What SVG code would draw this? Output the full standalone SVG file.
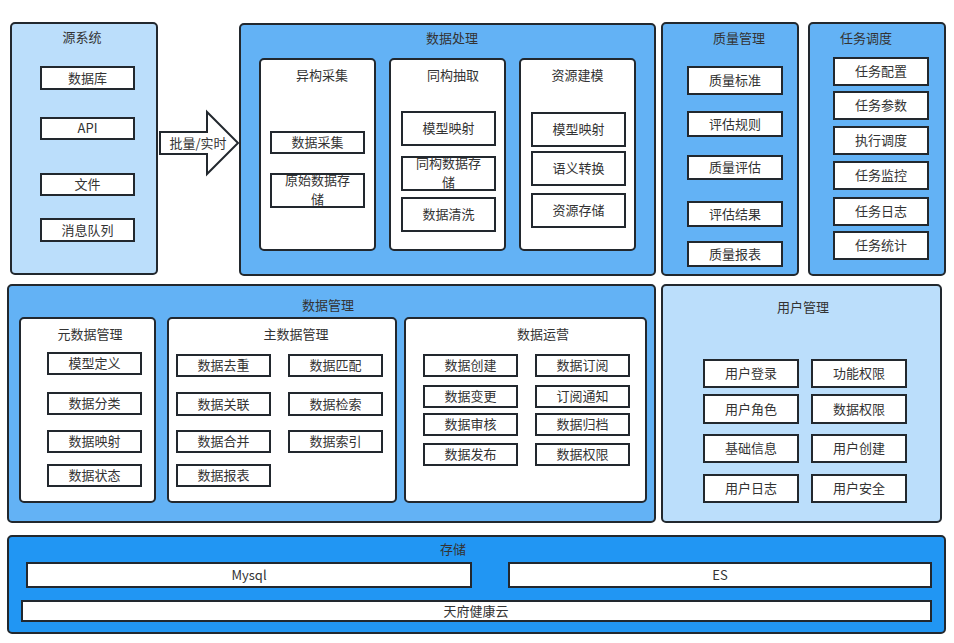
<svg xmlns="http://www.w3.org/2000/svg" width="954" height="643" viewBox="0 0 954 643">
<style>
.c{stroke:#22282e;stroke-width:2}
.l1{fill:#bbdefb}
.l2{fill:#63b2f5}
.l3{fill:#2196f3}
.w{fill:#ffffff}
.i{fill:#ffffff;stroke:#22282e;stroke-width:2}
text{font-family:"Noto Sans CJK SC","Liberation Sans",sans-serif;font-size:13px;fill:#333333;text-anchor:middle}
</style>
<rect width="954" height="643" fill="#ffffff"/>

<g id="source">
<rect class="c l1" x="11" y="23" width="146" height="251" rx="4"/>
<text x="82" y="42">源系统</text>
<rect class="i" x="41" y="67" width="93" height="22"/><text x="87.5" y="82.5">数据库</text>
<rect class="i" x="41" y="118" width="93" height="21"/><text x="87.5" y="133">API</text>
<rect class="i" x="41" y="174" width="93" height="21"/><text x="87.5" y="189">文件</text>
<rect class="i" x="41" y="219" width="93" height="22"/><text x="87.5" y="234.5">消息队列</text>
</g>

<g id="connectors">
<polygon points="160,132 207,132 207,112 238,143 207,174 207,154 160,154" fill="#ffffff" stroke="#22282e" stroke-width="2"/>
<text x="198" y="147.5">批量/实时</text>
</g>

<g id="processing">
<rect class="c l2" x="240" y="24" width="415" height="251" rx="4"/>
<text x="452" y="42.5">数据处理</text>
<rect class="c w" x="260" y="59" width="115" height="191" rx="4"/>
<text x="322" y="79.5">异构采集</text>
<rect class="i" x="271" y="132" width="93" height="21"/><text x="317.5" y="147">数据采集</text>
<rect class="i" x="271" y="174" width="93" height="33"/><text x="317.5" y="184.5"><tspan x="317.5" y="184.5">原始数据存</tspan><tspan x="317.5" y="203.5">储</tspan></text>
<rect class="c w" x="390" y="59" width="115" height="191" rx="4"/>
<text x="453" y="79.5">同构抽取</text>
<rect class="i" x="402" y="112" width="93" height="33"/><text x="448.5" y="133">模型映射</text>
<rect class="i" x="402" y="157" width="93" height="33"/><text x="448.5" y="168"><tspan x="448.5" y="168">同构数据存</tspan><tspan x="448.5" y="187">储</tspan></text>
<rect class="i" x="402" y="198" width="93" height="33"/><text x="448.5" y="219">数据清洗</text>
<rect class="c w" x="520" y="59" width="115" height="191" rx="4"/>
<text x="577.5" y="79.5">资源建模</text>
<rect class="i" x="532" y="113" width="93" height="33"/><text x="578.5" y="134">模型映射</text>
<rect class="i" x="532" y="152" width="93" height="33"/><text x="578.5" y="173">语义转换</text>
<rect class="i" x="532" y="194" width="93" height="33"/><text x="578.5" y="215">资源存储</text>
</g>

<g id="quality">
<rect class="c l2" x="662" y="23" width="136" height="252" rx="4"/>
<text x="739" y="43">质量管理</text>
<rect class="i" x="688" y="67" width="94" height="27"/><text x="735" y="85">质量标准</text>
<rect class="i" x="688" y="112" width="94" height="24"/><text x="735" y="128.5">评估规则</text>
<rect class="i" x="688" y="156" width="94" height="23"/><text x="735" y="172">质量评估</text>
<rect class="i" x="688" y="202" width="94" height="24"/><text x="735" y="218.5">评估结果</text>
<rect class="i" x="688" y="242" width="94" height="24"/><text x="735" y="258.5">质量报表</text>
</g>

<g id="task">
<rect class="c l2" x="809" y="23" width="136" height="252" rx="4"/>
<text x="866" y="42.5">任务调度</text>
<rect class="i" x="834" y="58" width="94" height="27"/><text x="881" y="76">任务配置</text>
<rect class="i" x="834" y="92" width="94" height="27"/><text x="881" y="110">任务参数</text>
<rect class="i" x="834" y="127" width="94" height="27"/><text x="881" y="145">执行调度</text>
<rect class="i" x="834" y="162" width="94" height="27"/><text x="881" y="180">任务监控</text>
<rect class="i" x="834" y="198" width="94" height="27"/><text x="881" y="216">任务日志</text>
<rect class="i" x="834" y="232" width="94" height="27"/><text x="881" y="250">任务统计</text>
</g>

<g id="datamgmt">
<rect class="c l2" x="8" y="285" width="647" height="237" rx="4"/>
<text x="328" y="309.5">数据管理</text>
<rect class="c w" x="20" y="318" width="135" height="184" rx="4"/>
<text x="90" y="338.5">元数据管理</text>
<rect class="i" x="48" y="353" width="93" height="21"/><text x="94.5" y="368">模型定义</text>
<rect class="i" x="48" y="393" width="93" height="21"/><text x="94.5" y="408">数据分类</text>
<rect class="i" x="48" y="431" width="93" height="21"/><text x="94.5" y="446">数据映射</text>
<rect class="i" x="48" y="465" width="93" height="21"/><text x="94.5" y="480">数据状态</text>
<rect class="c w" x="168" y="318" width="228" height="184" rx="4"/>
<text x="296" y="338.5">主数据管理</text>
<rect class="i" x="177" y="355" width="93" height="21"/><text x="223.5" y="370">数据去重</text>
<rect class="i" x="289" y="355" width="93" height="21"/><text x="335.5" y="370">数据匹配</text>
<rect class="i" x="177" y="393" width="93" height="22"/><text x="223.5" y="408.5">数据关联</text>
<rect class="i" x="289" y="393" width="93" height="22"/><text x="335.5" y="408.5">数据检索</text>
<rect class="i" x="177" y="431" width="93" height="21"/><text x="223.5" y="446">数据合并</text>
<rect class="i" x="289" y="431" width="93" height="21"/><text x="335.5" y="446">数据索引</text>
<rect class="i" x="177" y="465" width="93" height="21"/><text x="223.5" y="480">数据报表</text>
<rect class="c w" x="405" y="318" width="241" height="184" rx="4"/>
<text x="543" y="338.5">数据运营</text>
<rect class="i" x="424" y="355" width="93" height="21"/><text x="470.5" y="370">数据创建</text>
<rect class="i" x="536" y="355" width="93" height="21"/><text x="582.5" y="370">数据订阅</text>
<rect class="i" x="424" y="386" width="93" height="21"/><text x="470.5" y="401">数据变更</text>
<rect class="i" x="536" y="386" width="93" height="21"/><text x="582.5" y="401">订阅通知</text>
<rect class="i" x="424" y="414" width="93" height="21"/><text x="470.5" y="429">数据审核</text>
<rect class="i" x="536" y="414" width="93" height="21"/><text x="582.5" y="429">数据归档</text>
<rect class="i" x="424" y="444" width="93" height="21"/><text x="470.5" y="459">数据发布</text>
<rect class="i" x="536" y="444" width="93" height="21"/><text x="582.5" y="459">数据权限</text>
</g>

<g id="usermgmt">
<rect class="c l1" x="662" y="285" width="279" height="237" rx="4"/>
<text x="803" y="311.5">用户管理</text>
<rect class="i" x="704" y="360" width="94" height="27"/><text x="751" y="378">用户登录</text>
<rect class="i" x="812" y="360" width="94" height="27"/><text x="859" y="378">功能权限</text>
<rect class="i" x="704" y="395" width="94" height="28"/><text x="751" y="413.5">用户角色</text>
<rect class="i" x="812" y="395" width="94" height="28"/><text x="859" y="413.5">数据权限</text>
<rect class="i" x="704" y="435" width="94" height="27"/><text x="751" y="453">基础信息</text>
<rect class="i" x="812" y="435" width="94" height="27"/><text x="859" y="453">用户创建</text>
<rect class="i" x="704" y="475" width="94" height="27"/><text x="751" y="493">用户日志</text>
<rect class="i" x="812" y="475" width="94" height="27"/><text x="859" y="493">用户安全</text>
</g>

<g id="storage">
<rect class="c l3" x="8" y="536" width="937" height="97" rx="4"/>
<text x="453" y="553.5">存储</text>
<rect class="i" x="27" y="563" width="444" height="24"/><text x="249" y="579.5">Mysql</text>
<rect class="i" x="509" y="563" width="422" height="24"/><text x="720" y="579.5">ES</text>
<rect class="i" x="22" y="601" width="909" height="20"/><text x="476" y="615.5">天府健康云</text>
</g>
</svg>
